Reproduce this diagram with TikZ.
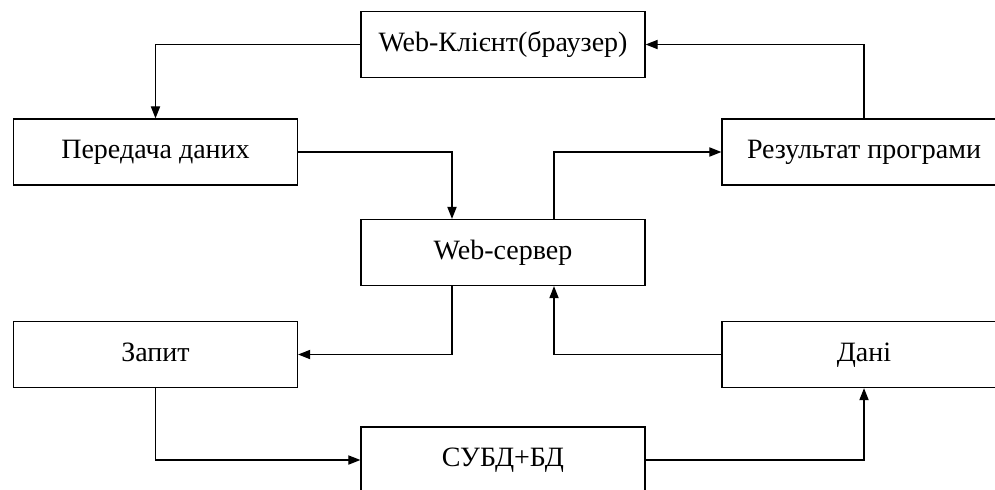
\documentclass[tikz,border=0pt]{standalone}
\usepackage{fontspec}
\setmainfont{Liberation Serif}
\usetikzlibrary{arrows.meta}

\tikzset{
  blok/.style={draw,rectangle,line width=0.65pt,minimum width=142pt,minimum height=33pt,
    inner sep=0pt,text height=9.6pt,text depth=3pt,font=\fontsize{14}{16}\selectfont},
  zv/.style={line width=0.6pt,-{Triangle[length=6pt,width=4.6pt]}}
}

\begin{document}
\begin{tikzpicture}[x=0.5pt,y=-0.5pt]
		\useasboundingbox (0,0) rectangle (995,489);
		% blocks
		\node [blok] (klient) at (503,44.5) {Web-Клієнт(браузер)};
		\node [blok] (peredacha) at (155.5,152) {Передача даних};
		\node [blok] (rezultat) at (864,152) {Результат програми};
		\node [blok] (server) at (503,252.5) {Web-сервер};
		\node [blok] (zapyt) at (155.5,354.5) {Запит};
		\node [blok] (dani) at (864,354.5) {Дані};
		\node [blok] (subd) at (503,460) {СУБД+БД};
		% arrows
		\draw [zv] (klient.west) -| (peredacha.north);
		\draw [zv] (peredacha.east) -| ([xshift=-25.5pt]server.north);
		\draw [zv] ([xshift=25.5pt]server.north) |- (rezultat.west);
		\draw [zv] (rezultat.north) |- (klient.east);
		\draw [zv] ([xshift=-25.5pt]server.south) |- (zapyt.east);
		\draw [zv] (dani.west) -| ([xshift=25.5pt]server.south);
		\draw [zv] (zapyt.south) |- (subd.west);
		\draw [zv] (subd.east) -| (dani.south);
\end{tikzpicture}
\end{document}
